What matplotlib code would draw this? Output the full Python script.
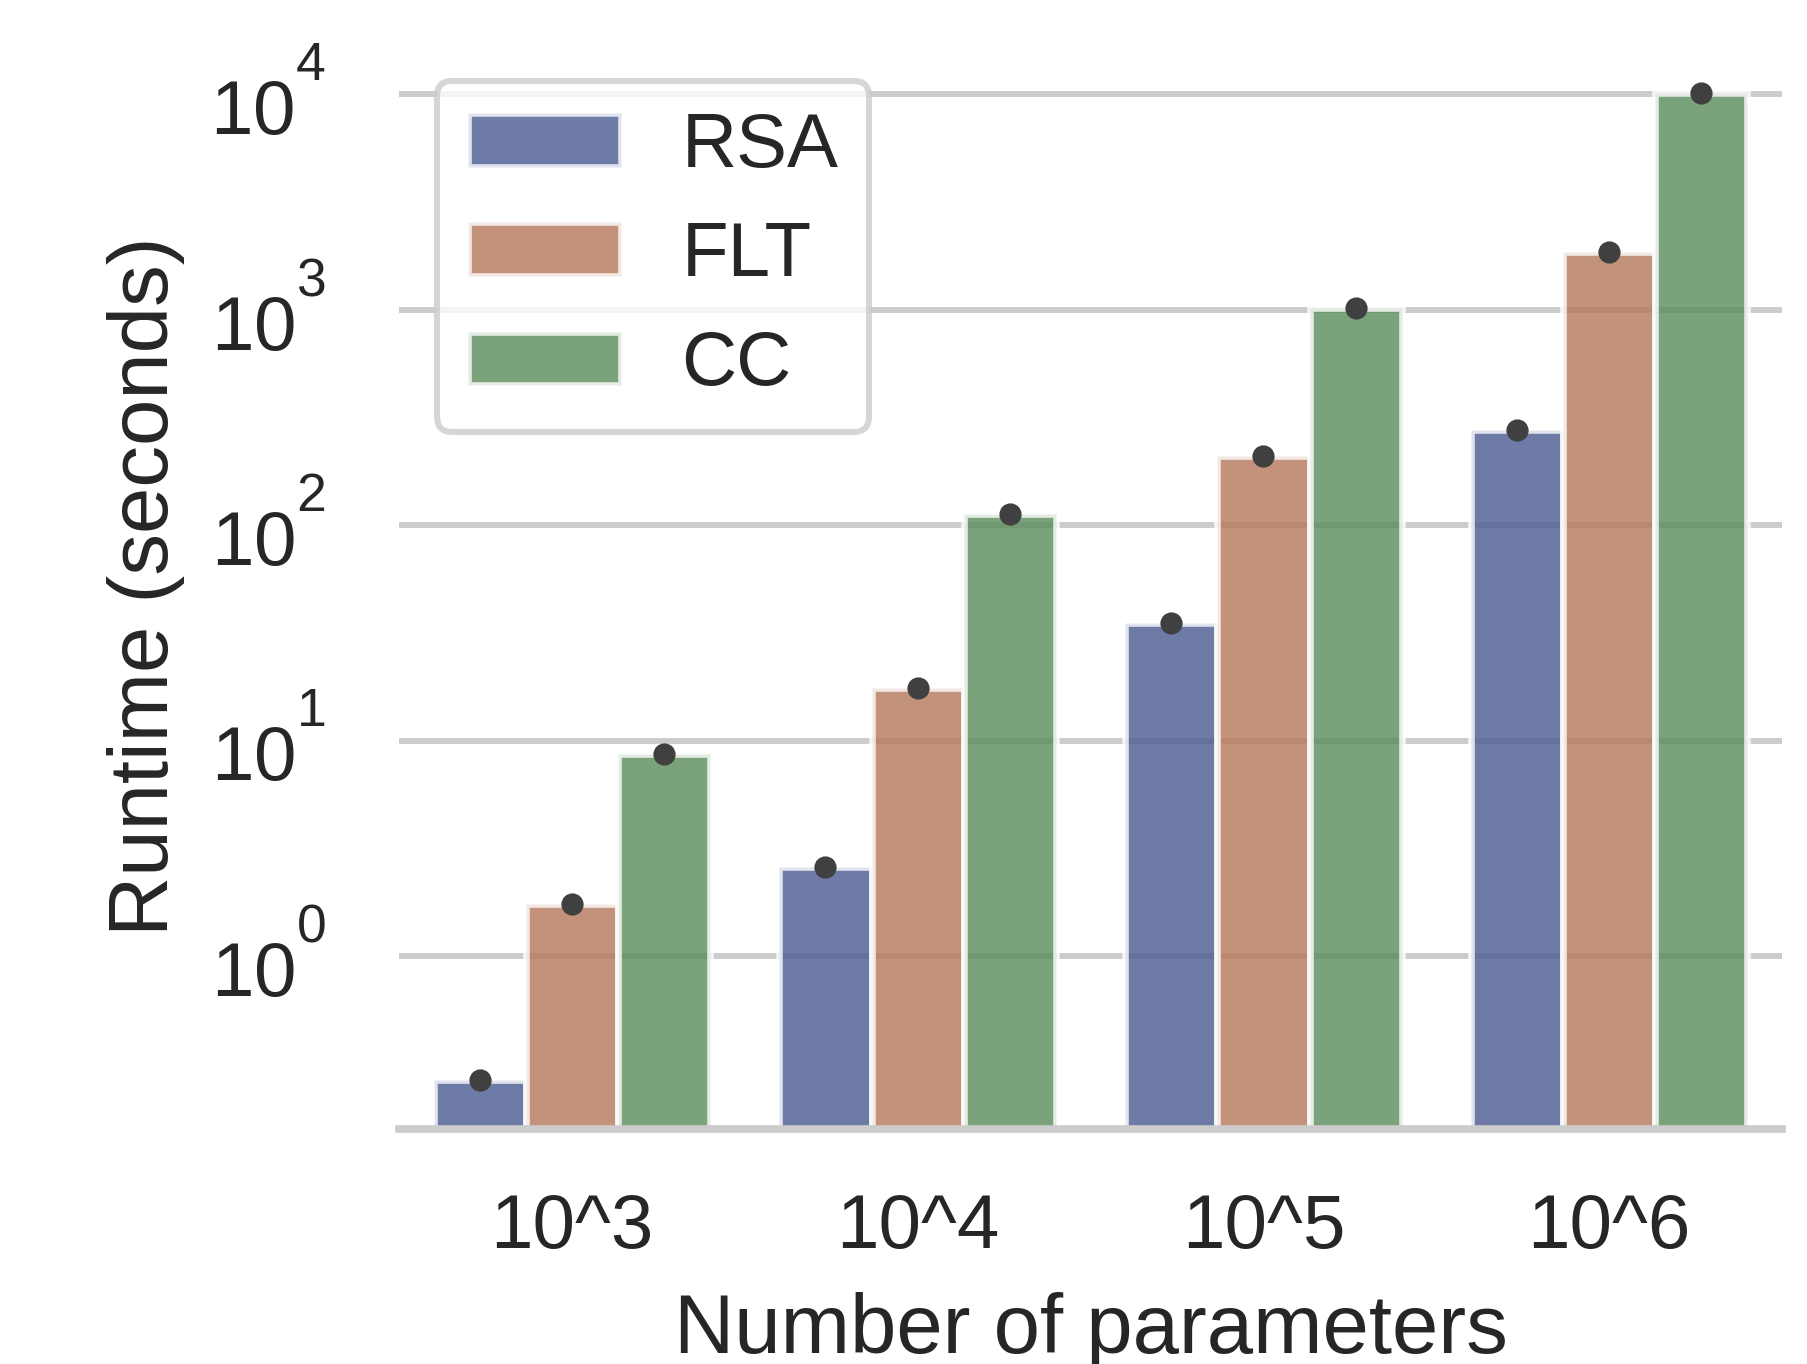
import matplotlib
matplotlib.use("Agg")
import matplotlib.pyplot as plt
import matplotlib._mathtext as mathtext_internal
import numpy as np

plt.rcParams['font.family'] = ['Liberation Sans', 'DejaVu Sans']
plt.rcParams['mathtext.fontset'] = 'custom'
plt.rcParams['mathtext.rm'] = 'Liberation Sans'
plt.rcParams['mathtext.it'] = 'Liberation Sans:italic'
plt.rcParams['mathtext.bf'] = 'Liberation Sans:bold'
plt.rcParams['mathtext.default'] = 'regular'
plt.rcParams['text.color'] = '#262626'
plt.rcParams['axes.labelcolor'] = '#262626'
plt.rcParams['xtick.color'] = '#262626'
plt.rcParams['ytick.color'] = '#262626'

# raise the exponents a bit, like the original tick labels
mathtext_internal.FontConstantsBase.sup1 = 1.35
mathtext_internal.FontConstantsBase.script_space = 0.12

# Data (runtime in seconds)
categories = ['10^3', '10^4', '10^5', '10^6']
methods = ['RSA', 'FLT', 'CC']
rsa = [0.268, 2.61, 35.1, 278]
flt = [1.74, 17.6, 209, 1850]
cc = [8.73, 113, 1025, 10120]
colors = ['#4a5a91', '#b57759', '#598c5b']

series = [rsa, flt, cc]

fig = plt.figure(figsize=(1807 / 250, 1364 / 250), dpi=250)
ax = fig.add_axes([0.2208, 0.1723, 0.9862 - 0.2208, 0.9685 - 0.1723])

x = np.arange(len(categories))
w = 0.8 / 3
for i, (name, vals) in enumerate(zip(methods, series)):
    pos = x - 0.8 / 2 + w * (i + 0.5)
    ax.bar(pos, vals, width=w, color=colors[i], alpha=0.8, edgecolor='white',
           linewidth=1.9, label=name, zorder=2)
    ax.plot(pos, vals, linestyle='none', marker='o', markersize=5.4,
            color='#404040', zorder=3)

ax.set_yscale('log')
ax.set_ylim(0.158, 17340)
ax.set_xlim(-0.5, 3.5)
ax.set_xticks(x)
ax.set_xticklabels(categories)

ax.grid(axis='y', which='major', color='#cccccc', linewidth=1.7, zorder=0)
ax.grid(axis='x', visible=False)
ax.set_axisbelow(True)
for s in ['left', 'right', 'top']:
    ax.spines[s].set_visible(False)
ax.spines['bottom'].set_color('#cccccc')
ax.spines['bottom'].set_linewidth(2.2)

ax.tick_params(axis='both', which='both', length=0, labelsize=22)
ax.tick_params(axis='y', pad=21)
ax.tick_params(axis='x', pad=18.5)

ax.set_xlabel('Number of parameters', fontsize=24)
ax.set_ylabel('Runtime (seconds)', fontsize=24)
ax.xaxis.set_label_coords(0.5, -0.15)
ax.yaxis.set_label_coords(-0.155, 0.5)

leg = ax.legend(loc='upper left', fontsize=22, framealpha=0.8,
                edgecolor='#cccccc', fancybox=True)
leg.get_frame().set_linewidth(1.75)

fig.savefig('out.png', dpi=250)
